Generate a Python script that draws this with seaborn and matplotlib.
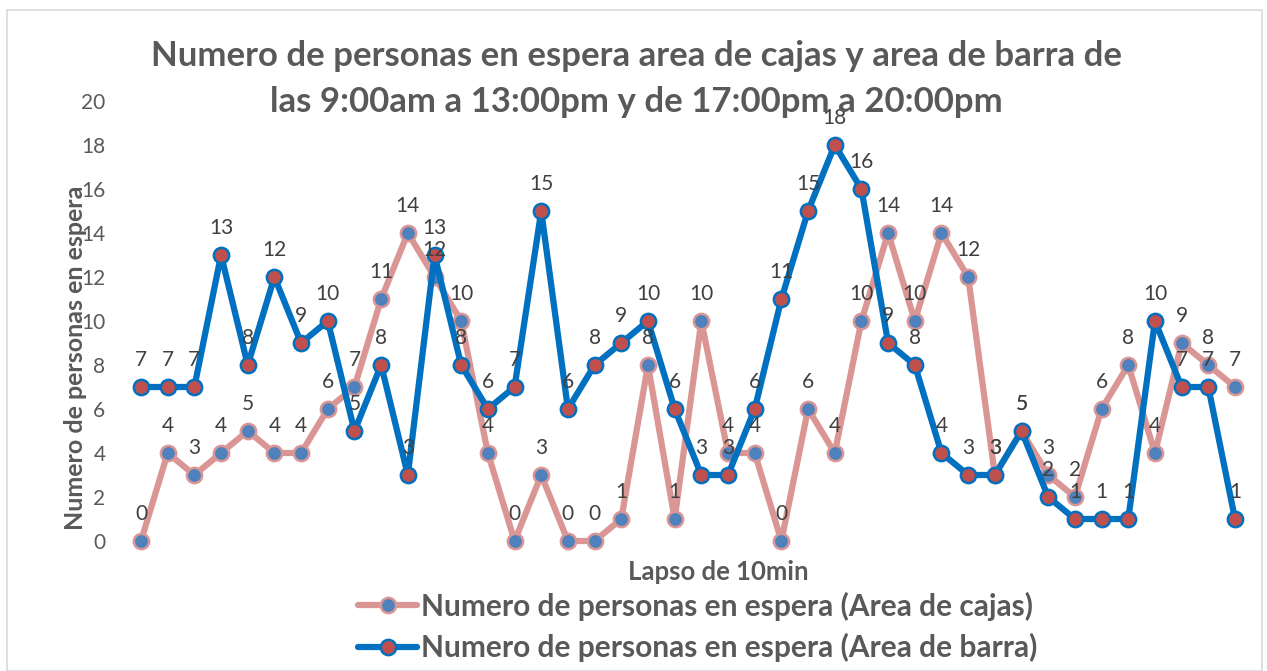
import matplotlib
matplotlib.use("Agg")
import matplotlib.pyplot as plt
from matplotlib.patches import Rectangle
import seaborn as sns
import pandas as pd

# Waiting people per 10-minute interval
cajas = [0, 4, 3, 4, 5, 4, 4, 6, 7, 11, 14, 12, 10, 4, 0, 3, 0, 0, 1, 8, 1,
         10, 4, 4, 0, 6, 4, 10, 14, 10, 14, 12, 3, 5, 3, 2, 6, 8, 4, 9, 8, 7]
barra = [7, 7, 7, 13, 8, 12, 9, 10, 5, 8, 3, 13, 8, 6, 7, 15, 6, 8, 9, 10, 6,
         3, 3, 6, 11, 15, 18, 16, 9, 8, 4, 3, 3, 5, 2, 1, 1, 1, 10, 7, 7, 1]
serie_cajas = "Numero de personas en espera (Area de cajas)"
serie_barra = "Numero de personas en espera (Area de barra)"
titulo = ("Numero de personas en espera area de cajas y area de barra de\n"
          "las 9:00am a 13:00pm y de 17:00pm a 20:00pm")
y_ticks = [0, 2, 4, 6, 8, 10, 12, 14, 16, 18, 20]

sns.set_theme(style="white")
plt.rcParams["font.family"] = ["Lato", "DejaVu Sans"]

GRAY = "#595959"
LABEL = "#404040"
PINK = "#DA9694"
PINK_FACE = "#4F81BD"
BLUE = "#0070C0"
BLUE_FACE = "#C0504D"

df = pd.DataFrame({"lapso": range(len(cajas)), "cajas": cajas, "barra": barra})

fig = plt.figure(figsize=(12.67, 6.71), dpi=100)
W, H = 1267, 671
x0, x1 = 141, 1235
n = len(cajas)
unit = (x1 - x0) / (n - 1)
left = x0 - 0.5 * unit
width = unit * n
ax = fig.add_axes([left / W, (H - 541) / H, width / W, 440 / H])

fig.patches.append(Rectangle((7 / W, 0), 1255 / W, 661 / H, transform=fig.transFigure,
                             fill=False, edgecolor="#D9D9D9", linewidth=1.2))

sns.lineplot(data=df, x="lapso", y="cajas", ax=ax, color=PINK, linewidth=4.5,
             marker="o", markersize=11, markerfacecolor=PINK_FACE,
             markeredgecolor=PINK, markeredgewidth=1.8, clip_on=False,
             label=serie_cajas, zorder=3)
sns.lineplot(data=df, x="lapso", y="barra", ax=ax, color=BLUE, linewidth=4.5,
             marker="o", markersize=11, markerfacecolor=BLUE_FACE,
             markeredgecolor=BLUE, markeredgewidth=1.8, clip_on=False,
             label=serie_barra, zorder=4)

for serie in ("cajas", "barra"):
    for xi, yi in zip(df["lapso"], df[serie]):
        ax.annotate(str(yi), (xi, yi), xytext=(0, 12), textcoords="offset points",
                    ha="center", va="bottom", fontsize=15, color=LABEL, zorder=5,
                    annotation_clip=False)

ax.set_xlim(-0.5, n - 0.5)
ax.set_ylim(0, 20)
ax.set_yticks(y_ticks)
ax.set_yticklabels([str(t) for t in y_ticks], fontsize=15, color=GRAY)
ax.set_xticks([])
ax.tick_params(axis="y", length=0, pad=16)
for s in ax.spines.values():
    s.set_visible(False)
ax.set_facecolor("none")

ax.set_xlabel("Lapso de 10min", fontsize=18.5, fontweight="bold", color=GRAY)
ax.xaxis.set_label_coords((718 - left) / width, -(560 - 541) / 440)
ax.set_ylabel("Numero de personas en espera", fontsize=18, fontweight="bold", color=GRAY)
ax.yaxis.label.set_va("center")
ax.yaxis.set_label_coords((76 - left) / width, (541 - 358) / 440)

fig.text(0.5024, 1 - 79 / H, titulo, ha="center", va="center", fontsize=25,
         fontweight="bold", color=GRAY, linespacing=1.5)

handles, labels = ax.get_legend_handles_labels()
if ax.get_legend():
    ax.get_legend().remove()
leg = fig.legend(handles, labels, loc="center", bbox_to_anchor=(698 / W, 1 - 627 / H),
                 frameon=False, handlelength=1.95, handletextpad=0.15,
                 labelspacing=0.42, borderaxespad=0, prop={"size": 21.5, "weight": "bold"})
for t in leg.get_texts():
    t.set_color(GRAY)

fig.savefig("out.png", dpi=100)
